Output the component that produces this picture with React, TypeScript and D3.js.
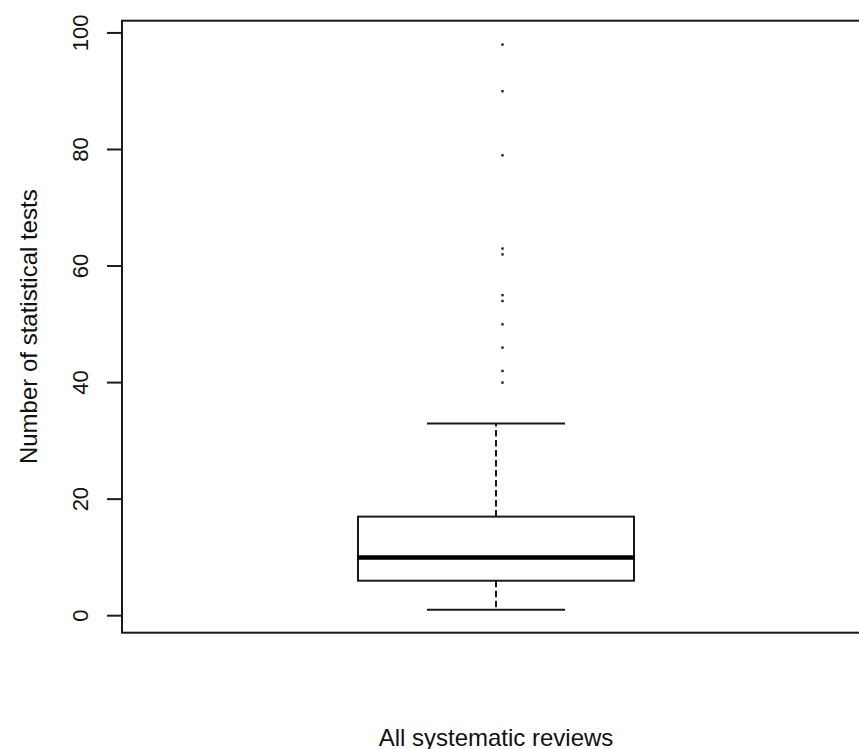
import * as d3 from "d3";

// data
const categories = ["All systematic reviews"];
const lowerWhisker = [1];
const q1 = [6];
const median = [10];
const q3 = [17];
const upperWhisker = [33];
const outliers = [40, 42, 46, 50, 54, 55, 62, 63, 79, 90, 98];
const yTicks = [0, 20, 40, 60, 80, 100];
const yLabel = "Number of statistical tests";

const W = 859;
const H = 749;
const plot = { left: 122, right: 870, top: 20.7, bottom: 632.7 };

export default function App() {
  const x = d3
    .scaleBand<string>()
    .domain(categories)
    .range([plot.left, plot.right])
    .paddingInner(0)
    .paddingOuter(0.855);

  const y = d3
    .scaleLinear()
    .domain([-2.92, 102.1])
    .range([plot.bottom, plot.top]);

  const stroke = "#1a1a1a";

  return (
    <svg
      width={W}
      height={H}
      style={{ position: "absolute", left: 0, top: 0, background: "#fff" }}
      fontFamily="'Liberation Sans', Arial, sans-serif"
    >
      {/* frame */}
      <rect
        x={plot.left}
        y={plot.top}
        width={plot.right - plot.left}
        height={plot.bottom - plot.top}
        fill="none"
        stroke={stroke}
        strokeWidth={2}
      />

      {/* y axis ticks + labels */}
      {yTicks.map((t) => (
        <g key={t}>
          <line x1={plot.left - 15} x2={plot.left} y1={y(t)} y2={y(t)} stroke={stroke} strokeWidth={2} />
          <text
            transform={`translate(88,${y(t)}) rotate(-90)`}
            textAnchor="middle"
            fontSize={22}
            fill="#111"
          >
            {t}
          </text>
        </g>
      ))}

      <text
        transform={`translate(37,${(plot.top + plot.bottom) / 2}) rotate(-90)`}
        textAnchor="middle"
        fontSize={24}
        fill="#111"
      >
        {yLabel}
      </text>

      {/* boxes */}
      {categories.map((c, i) => {
        const x0 = x(c)!;
        const bw = x.bandwidth();
        const cx = x0 + bw / 2;
        const cap = bw / 4;
        return (
          <g key={c}>
            <line x1={cx} x2={cx} y1={y(q3[i])} y2={y(upperWhisker[i])} stroke={stroke} strokeWidth={2} strokeDasharray="6.5,3.5" />
            <line x1={cx} x2={cx} y1={y(q1[i])} y2={y(lowerWhisker[i])} stroke={stroke} strokeWidth={2} strokeDasharray="6.5,3.5" />
            <line x1={cx - cap} x2={cx + cap} y1={y(upperWhisker[i])} y2={y(upperWhisker[i])} stroke={stroke} strokeWidth={2} />
            <line x1={cx - cap} x2={cx + cap} y1={y(lowerWhisker[i])} y2={y(lowerWhisker[i])} stroke={stroke} strokeWidth={2} />
            <rect x={x0} y={y(q3[i])} width={bw} height={y(q1[i]) - y(q3[i])} fill="#fff" stroke={stroke} strokeWidth={2} />
            <line x1={x0 - 1} x2={x0 + bw + 1} y1={y(median[i])} y2={y(median[i])} stroke="#000" strokeWidth={4.5} />
            {outliers.map((o, j) => (
              <rect key={j} x={cx + 6.5 - 1.2} y={y(o) - 1.2} width={2.4} height={2.4} fill="#222" />
            ))}
            <text x={cx} y={745.5} textAnchor="middle" fontSize={24} fill="#111">
              {c}
            </text>
          </g>
        );
      })}
    </svg>
  );
}
